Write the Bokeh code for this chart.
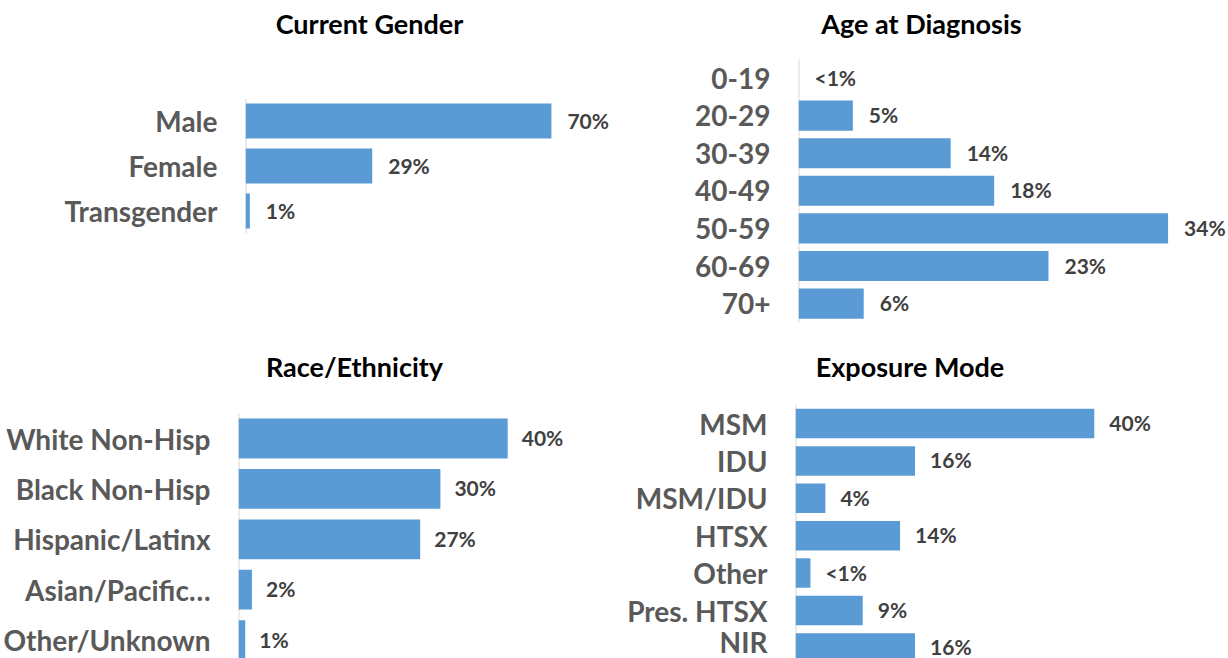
from bokeh.plotting import figure
from bokeh.models import Range1d, FixedTicker, Label, ColumnDataSource
from bokeh.layouts import column, row
from bokeh.core.properties import value
from bokeh.embed import file_html
from bokeh.resources import INLINE

# ---- data ----
gender_categories = ["Male", "Female", "Transgender"]
gender_values = [70, 29, 1]
gender_labels = ["70%", "29%", "1%"]

age_categories = ["0-19", "20-29", "30-39", "40-49", "50-59", "60-69", "70+"]
age_values = [0, 5, 14, 18, 34, 23, 6]
age_labels = ["<1%", "5%", "14%", "18%", "34%", "23%", "6%"]

race_categories = ["White Non-Hisp", "Black Non-Hisp", "Hispanic/Latinx",
                   "Asian/Pacific\u2026", "Other/Unknown"]
race_values = [40, 30, 27, 2, 1]
race_labels = ["40%", "30%", "27%", "2%", "1%"]

exposure_categories = ["MSM", "IDU", "MSM/IDU", "HTSX", "Other", "Pres. HTSX", "NIR"]
exposure_values = [40, 16, 4, 14, 2, 9, 16]
exposure_labels = ["40%", "16%", "4%", "14%", "<1%", "9%", "16%"]

FONT = "Lato"
BAR = "#5B9BD5"


def make_panel(title, cats, vals, labs, width, height, frame_left,
               first_center, spacing, px_per_unit, bar_h, title_xy, lab_off):
    frame_w = width - frame_left
    n = len(cats)
    p = figure(width=width, height=height, output_backend="svg",
               toolbar_location=None, x_axis_location=None,
               x_range=Range1d(0, frame_w / px_per_unit),
               y_range=Range1d((height - first_center) / spacing,
                               -first_center / spacing),
               min_border_left=frame_left, min_border_right=0,
               min_border_top=0, min_border_bottom=0)
    p.outline_line_color = None
    p.grid.visible = False
    p.background_fill_color = "white"
    p.border_fill_color = "white"
    ys = list(range(n))
    src = ColumnDataSource(dict(y=ys, v=vals, lab=labs))
    # category axis line spanning the categories only
    p.segment(x0=[0], y0=[-0.5], x1=[0], y1=[n - 0.5],
              line_color="#D9D9D9", line_width=2)
    p.hbar(y="y", right="v", left=0, height=bar_h, source=src,
           fill_color=BAR, line_color=None)
    p.text(x="v", y="y", text="lab", source=src, x_offset=lab_off, y_offset=-1,
           text_font=value(FONT), text_font_style="bold",
           text_font_size="21px", text_color="#404040",
           text_baseline="middle", text_align="left")
    ax = p.yaxis[0]
    ax.ticker = FixedTicker(ticks=ys)
    ax.major_label_overrides = {i: c for i, c in enumerate(cats)}
    ax.major_tick_line_color = None
    ax.minor_tick_line_color = None
    ax.major_tick_out = 0
    ax.major_tick_in = 0
    ax.axis_line_color = None
    ax.major_label_standoff = 28
    ax.major_label_text_font = FONT
    ax.major_label_text_font_style = "bold"
    ax.major_label_text_font_size = "28px"
    ax.major_label_text_color = "#595959"
    tx, ty = title_xy
    p.add_layout(Label(x=tx - frame_left, y=height - ty,
                       x_units="screen", y_units="screen", text=title,
                       text_font=FONT, text_font_style="bold",
                       text_font_size="27px", text_color="black",
                       text_align="center", text_baseline="middle"))
    return p


p1 = make_panel("Current Gender", gender_categories, gender_values, gender_labels,
                620, 330, 245, 120.5, 45, 4.37, 0.78, (369, 23), 16)
p2 = make_panel("Age at Diagnosis", age_categories, age_values, age_labels,
                608, 330, 178, 77.5, 37.6, 10.87, 0.8, (301, 23), 16)
p3 = make_panel("Race/Ethnicity", race_categories, race_values, race_labels,
                620, 328, 238, 108, 50.4, 6.73, 0.79, (354, 36), 14)
p4 = make_panel("Exposure Mode", exposure_categories, exposure_values, exposure_labels,
                608, 328, 175, 93, 37.4, 7.47, 0.79, (289.5, 36), 15)

layout = column(row(p1, p2, spacing=0), row(p3, p4, spacing=0), spacing=0)
open("out.html", "w").write(file_html(layout, INLINE))
